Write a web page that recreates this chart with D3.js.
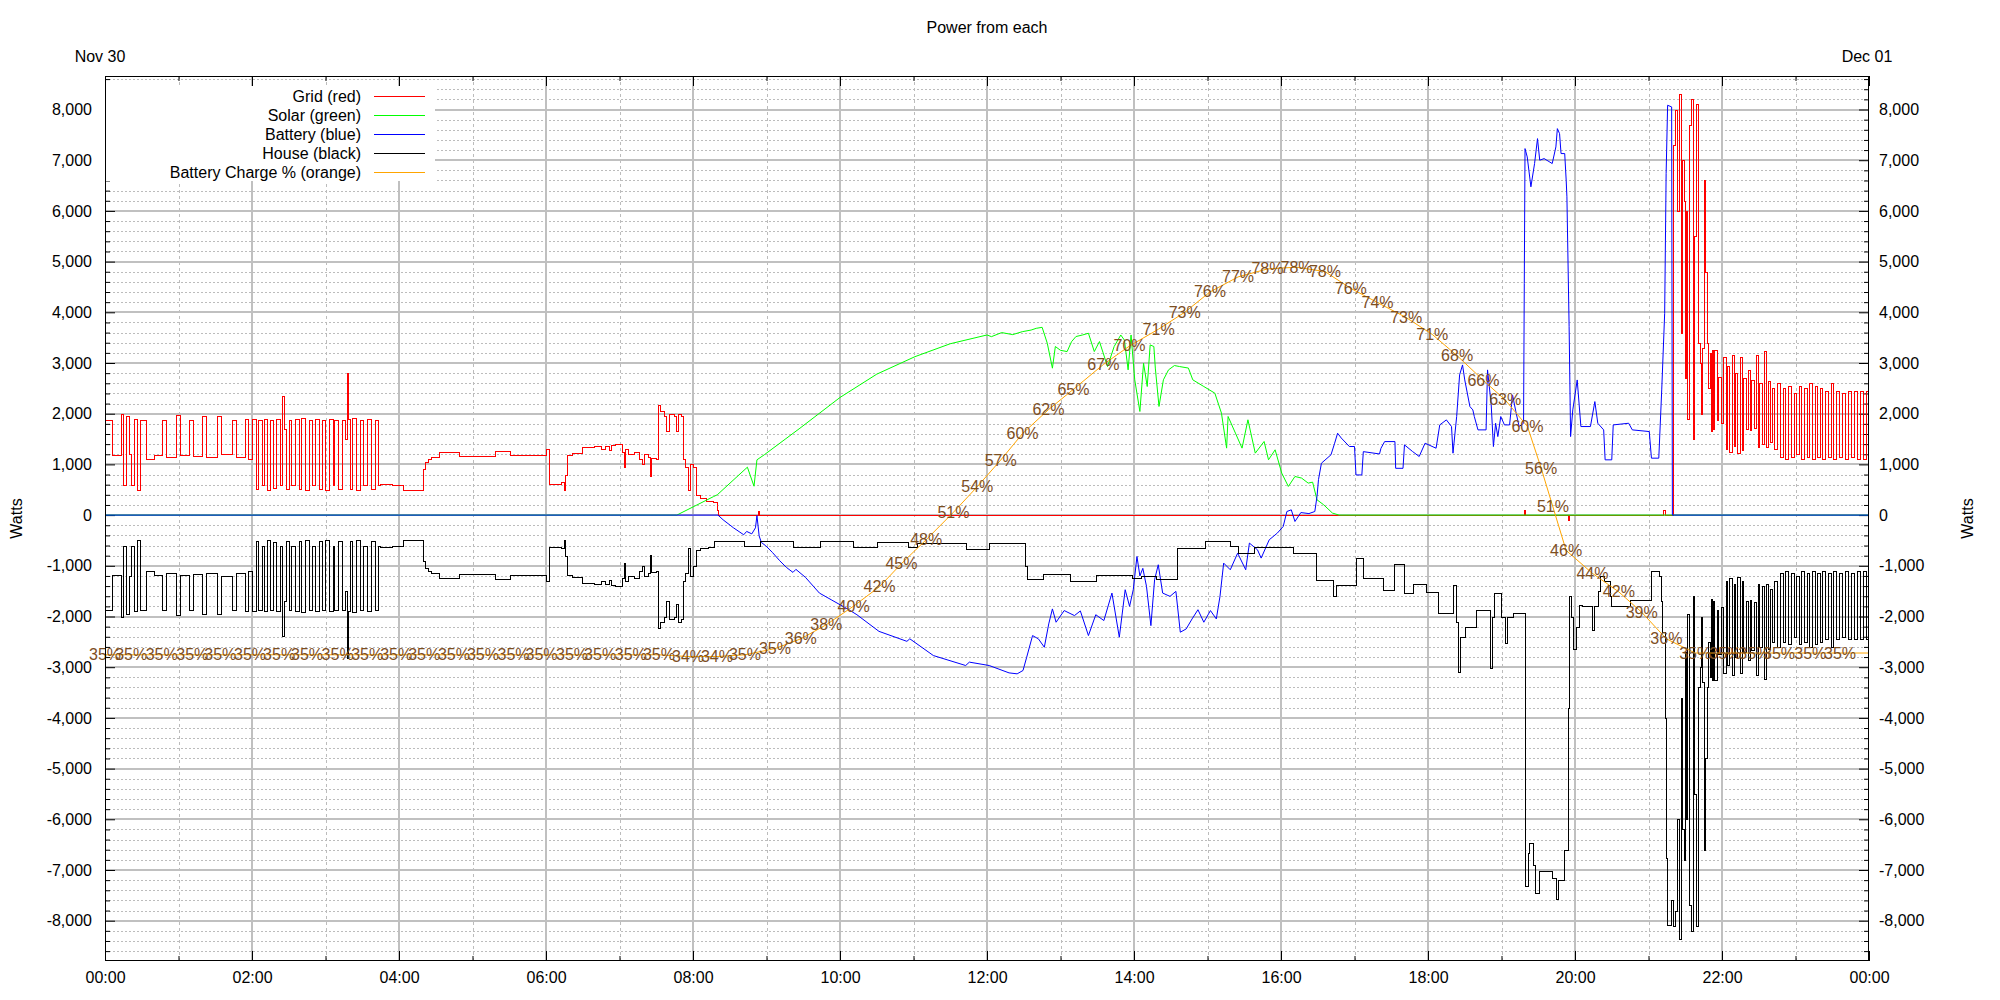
<!DOCTYPE html>
<html><head><meta charset="utf-8">
<script src="https://cdn.jsdelivr.net/npm/d3@7"></script>
<style>
html,body{margin:0;padding:0;background:#fff;}
svg{display:block;}
text{font-family:"Liberation Sans",Arial,sans-serif;}
</style></head><body>
<svg id="chart" width="2000" height="1000"></svg>
<script>
// ---------------- DATA ----------------
const chartTitle = "Power from each";
const startDateLabel = "Nov 30";
const endDateLabel = "Dec 01";
const yAxisTitle = "Watts";
const xDomain = [0, 24];               // hours
const yDomain = [-8795, 8661];         // watts
const pctDomain = [0, 100];            // battery charge %
const xTickHours = [0,2,4,6,8,10,12,14,16,18,20,22,24];
const xTickLabels = ["00:00","02:00","04:00","06:00","08:00","10:00","12:00","14:00","16:00","18:00","20:00","22:00","00:00"];
const yTicks = [-8000,-7000,-6000,-5000,-4000,-3000,-2000,-1000,0,1000,2000,3000,4000,5000,6000,7000,8000];
const seriesNames = ["Grid (red)","Solar (green)","Battery (blue)","House (black)","Battery Charge % (orange)"];
const seriesColors = ["#ff0000","#00ff00","#0000ff","#000000","#ffa500"];

// Grid power [hour, W] (stepwise)
const gridPts = [
[0.00,1880],[0.10,1190],[0.22,2000],[0.25,600],[0.29,1950],[0.33,1200],[0.36,600],[0.40,1900],[0.44,500],[0.48,1870],[0.56,1100],[0.66,1180],[0.78,1870],[0.83,1150],[0.97,1980],[1.02,1190],[1.14,1880],[1.20,1170],[1.32,1950],[1.37,1150],[1.53,1950],[1.58,1200],[1.73,1880],[1.78,1150],[1.90,1900],[1.95,1100],
[2.00,1900],[2.05,520],[2.08,1880],[2.13,600],[2.17,1900],[2.20,500],[2.24,1870],[2.29,530],[2.32,1900],[2.38,600],[2.41,2350],[2.44,1700],[2.46,520],[2.50,1880],[2.53,600],[2.59,1900],[2.635,520],[2.67,1920],[2.725,500],[2.77,1880],[2.82,600],[2.86,1900],[2.91,520],[2.95,1880],[2.99,500],[3.05,1900],[3.10,600],[3.12,1880],[3.17,520],[3.22,1880],[3.27,1500],[3.29,2800],[3.31,1900],[3.34,520],[3.36,1920],[3.41,500],[3.47,1880],[3.515,600],[3.57,1900],[3.62,520],[3.675,1880],[3.72,600],
[3.745,620],[3.90,600],[4.06,500],[4.33,900],[4.36,1050],[4.40,1100],[4.44,1150],[4.54,1250],[4.82,1170],[5.30,1260],[5.51,1180],[6.00,1300],[6.04,620],[6.20,650],[6.24,500],[6.26,800],[6.29,1190],[6.36,1220],[6.49,1340],[6.65,1360],[6.75,1300],[6.80,1360],[6.86,1280],[6.89,1380],[6.94,1400],[7.03,1250],[7.06,950],[7.08,1300],[7.11,1200],[7.20,1250],[7.27,1100],[7.30,1000],[7.33,1200],[7.39,1150],[7.41,780],[7.43,1120],[7.50,1100],
[7.52,2180],[7.55,2050],[7.60,1960],[7.63,1650],[7.67,2000],[7.74,1950],[7.77,1650],[7.80,2000],[7.84,1950],[7.87,1100],[7.89,950],[7.93,500],[7.96,1000],[8.00,950],[8.04,400],[8.10,330],[8.18,280],[8.27,250],[8.32,100],[8.34,0],
[8.88,80],[8.90,0],[19.30,100],[19.32,0],[19.90,-100],[19.92,0],[21.20,100],[21.22,0],
[21.33,7300],[21.36,8000],[21.39,6000],[21.41,8300],[21.44,3600],[21.455,7000],[21.48,6200],[21.49,2700],[21.51,6000],[21.53,1900],[21.55,7700],[21.575,8200],[21.60,1500],[21.625,5500],[21.65,8100],[21.68,3400],[21.70,3000],[21.71,2000],[21.73,3300],[21.755,6600],[21.775,4800],[21.80,3400],[21.815,2500],[21.83,3200],[21.845,1650],[21.86,3250],[21.875,1700],
[21.895,3250],[21.93,1880],[21.95,2730],[21.99,1810],[22.02,3120],[22.05,1300],[22.07,2950],[22.10,1250],[22.13,3150],[22.16,1355],[22.18,2800],[22.21,1220],[22.24,3120],[22.27,1290],[22.29,2700],[22.32,1700],[22.35,2860],[22.38,1680],[22.40,2670],[22.43,1710],[22.46,3150],[22.49,1350],[22.51,2600],[22.54,1400],[22.57,3230],[22.60,1350],[22.62,2650],[22.65,1450],[22.68,2500],[22.71,1300],
[22.75,2600],[22.79,1150],[22.83,2500],[22.86,1100],[22.90,2550],[22.94,1150],[22.98,2400],[23.01,1200],[23.05,2550],[23.08,1100],[23.12,2500],[23.15,1150],[23.19,2600],[23.22,1100],[23.26,2550],[23.29,1150],[23.33,2500],[23.36,1100],[23.40,2450],[23.44,1150],[23.48,2600],[23.51,1100],[23.55,2450],[23.59,1150],[23.63,2400],[23.67,1100],[23.71,2450],[23.75,1150],[23.80,2450],[23.84,1100],[23.88,2450],[23.92,1100],[23.96,2450],[24.0,2450]
];

// Solar power [hour, W]
const solarPts = [
[0,0],[7.55,0],[7.78,0],[8.28,366],[8.33,400],[8.74,945],[8.83,570],[8.87,1090],[8.97,1190],[9.455,1714],[10.0,2320],[10.5,2780],[11.02,3125],[11.5,3380],[12.0,3553],[12.06,3520],[12.2,3600],[12.35,3560],[12.48,3618],[12.6,3650],[12.67,3684],[12.75,3704],[12.82,3390],[12.89,2898],[12.93,3325],[13.0,3250],[13.09,3226],[13.15,3420],[13.21,3522],[13.30,3553],[13.38,3587],[13.46,3226],[13.53,3423],[13.58,3200],[13.64,2930],[13.73,3325],[13.82,3553],[13.87,3450],[13.92,2865],[13.96,3553],[14.01,2668],[14.08,2044],[14.13,2996],[14.18,2536],[14.22,3357],[14.27,3325],[14.29,2900],[14.34,2143],[14.40,2668],[14.47,2865],[14.55,2950],[14.62,2930],[14.74,2900],[14.80,2668],[14.95,2536],[15.10,2405],[15.19,2011],[15.26,1321],[15.28,1945],[15.38,1617],[15.47,1321],[15.55,1880],[15.65,1222],[15.77,1452],[15.83,1091],[15.92,1288],[16.01,828],[16.10,565],[16.19,762],[16.28,730],[16.37,631],[16.43,650],[16.49,302],[16.58,204],[16.70,40],[16.79,0],[24,0]
];

// Battery power [hour, W]
const batteryPts = [
[0,0],[8.34,0],[8.41,-93],[8.55,-250],[8.69,-388],[8.73,-322],[8.80,-370],[8.85,-250],[8.87,-10],[8.90,-410],[8.93,-540],[8.99,-605],[9.08,-736],[9.18,-900],[9.27,-1031],[9.36,-1130],[9.40,-1070],[9.53,-1228],[9.72,-1538],[9.88,-1669],[10.12,-1866],[10.23,-1965],[10.53,-2293],[10.91,-2490],[10.95,-2440],[11.27,-2770],[11.71,-2967],[11.76,-2900],[12.03,-2967],[12.30,-3112],[12.41,-3131],[12.49,-3065],[12.54,-2803],[12.62,-2376],[12.70,-2442],[12.78,-2606],[12.84,-2146],[12.89,-1850],[12.94,-2113],[13.05,-1883],[13.19,-1982],[13.27,-1890],[13.38,-2376],[13.48,-1965],[13.59,-2080],[13.70,-1538],[13.80,-2409],[13.88,-1472],[13.94,-1800],[13.99,-1472],[14.04,-816],[14.08,-1200],[14.12,-1050],[14.17,-1406],[14.23,-2180],[14.28,-1275],[14.33,-979],[14.39,-1538],[14.49,-1603],[14.57,-1504],[14.63,-2310],[14.71,-2245],[14.79,-2048],[14.87,-1866],[14.95,-2113],[15.04,-1883],[15.12,-2048],[15.17,-1603],[15.22,-947],[15.31,-1078],[15.41,-750],[15.52,-1078],[15.57,-552],[15.68,-684],[15.73,-848],[15.84,-487],[15.95,-355],[16.03,-224],[16.08,71],[16.14,104],[16.19,-126],[16.27,50],[16.38,30],[16.46,71],[16.49,367],[16.51,700],[16.55,1024],[16.68,1189],[16.73,1418],[16.77,1615],[16.82,1520],[16.93,1353],[17.00,1353],[17.02,792],[17.10,792],[17.12,1252],[17.34,1206],[17.36,1318],[17.41,1450],[17.55,1450],[17.56,923],[17.66,923],[17.68,1385],[17.79,1254],[17.88,1156],[17.96,1418],[18.11,1319],[18.16,1779],[18.25,1878],[18.32,1747],[18.34,1221],[18.39,1944],[18.43,2765],[18.47,2962],[18.50,2666],[18.57,2141],[18.61,2075],[18.63,1944],[18.68,1681],[18.79,1681],[18.81,2864],[18.86,2174],[18.89,1352],[18.92,1812],[18.95,1549],[18.99,1944],[19.04,1779],[19.11,1779],[19.15,2370],[19.20,2009],[19.24,1747],[19.30,1812],[19.31,4571],[19.32,7229],[19.35,7065],[19.40,6475],[19.45,6934],[19.49,7426],[19.52,7000],[19.58,7032],[19.69,6934],[19.74,7262],[19.76,7623],[19.79,7524],[19.81,7131],[19.86,7131],[19.88,6606],[19.89,6278],[19.92,3716],[19.94,1549],[19.97,2075],[20.03,2666],[20.08,1747],[20.21,1747],[20.27,2239],[20.31,1812],[20.39,1681],[20.41,1090],[20.50,1090],[20.52,1779],[20.73,1812],[20.78,1681],[21.01,1648],[21.04,1123],[21.14,1123],[21.18,2469],[21.22,3979],[21.24,6737],[21.26,8084],[21.315,8051],[21.325,0],[24,0]
];

// House power [hour, W] (stepwise)
const housePts = [
[0.00,-1880],[0.10,-1190],[0.22,-2000],[0.25,-600],[0.29,-1950],[0.33,-1200],[0.36,-600],[0.40,-1900],[0.44,-500],[0.48,-1870],[0.56,-1100],[0.66,-1180],[0.78,-1870],[0.83,-1150],[0.97,-1980],[1.02,-1190],[1.14,-1880],[1.20,-1170],[1.32,-1950],[1.37,-1150],[1.53,-1950],[1.58,-1200],[1.73,-1880],[1.78,-1150],[1.90,-1900],[1.95,-1100],
[2.00,-1900],[2.05,-520],[2.08,-1880],[2.13,-600],[2.17,-1900],[2.20,-500],[2.24,-1870],[2.29,-530],[2.32,-1900],[2.38,-600],[2.41,-2380],[2.44,-1700],[2.46,-520],[2.50,-1880],[2.53,-600],[2.59,-1900],[2.635,-520],[2.67,-1920],[2.725,-500],[2.77,-1880],[2.82,-600],[2.86,-1900],[2.91,-520],[2.95,-1880],[2.99,-500],[3.05,-1900],[3.10,-600],[3.12,-1880],[3.17,-520],[3.22,-1880],[3.27,-1500],[3.29,-2820],[3.31,-1900],[3.34,-520],[3.36,-1920],[3.41,-500],[3.47,-1880],[3.515,-600],[3.57,-1900],[3.62,-520],[3.675,-1880],[3.72,-600],
[3.745,-620],[3.90,-600],[4.06,-500],[4.33,-900],[4.36,-1050],[4.40,-1100],[4.44,-1150],[4.54,-1250],[4.82,-1170],[5.30,-1260],[5.51,-1180],[6.00,-1300],[6.04,-620],[6.20,-650],[6.24,-500],[6.26,-800],[6.29,-1190],[6.36,-1220],[6.49,-1340],[6.65,-1360],[6.75,-1300],[6.80,-1360],[6.86,-1280],[6.89,-1380],[6.94,-1400],[7.03,-1250],[7.06,-950],[7.08,-1300],[7.11,-1200],[7.20,-1250],[7.27,-1100],[7.30,-1000],[7.33,-1200],[7.39,-1150],[7.41,-780],[7.43,-1120],[7.50,-1100],
[7.52,-2230],[7.55,-2100],[7.60,-2000],[7.63,-1700],[7.67,-2050],[7.74,-2000],[7.77,-1750],[7.80,-2100],[7.84,-2050],[7.87,-1300],[7.89,-1150],[7.93,-650],[7.96,-1200],[8.00,-1000],[8.04,-680],[8.10,-640],[8.20,-620],[8.28,-520],[8.69,-600],[8.91,-520],[9.36,-620],[9.73,-510],[10.18,-630],[10.50,-530],[10.93,-620],[11.05,-560],[11.39,-550],[11.71,-670],[12.03,-550],[12.52,-1000],[12.55,-1260],[12.76,-1165],[13.13,-1290],[13.48,-1190],[13.97,-1250],[14.10,-1210],[14.30,-1270],[14.58,-650],[14.96,-520],[15.31,-600],[15.42,-750],[15.63,-620],[16.17,-740],[16.48,-1275],[16.71,-1600],[16.75,-1380],[17.02,-845],[17.11,-1250],[17.39,-1480],[17.54,-955],[17.68,-1540],[17.79,-1350],[17.97,-1510],[18.13,-1930],[18.34,-1380],[18.38,-2100],[18.41,-3100],[18.44,-2400],[18.50,-2200],[18.65,-1870],[18.84,-3015],[18.87,-2000],[18.90,-1540],[18.99,-2000],[19.05,-2520],[19.08,-2000],[19.16,-1930],
[19.32,-7320],[19.36,-6660],[19.38,-6460],[19.43,-6900],[19.46,-7450],[19.51,-7020],[19.69,-7150],[19.74,-7580],[19.77,-7190],[19.85,-6600],[19.90,-3800],[19.92,-1600],[19.95,-2000],[19.97,-2650],[20.01,-2200],[20.05,-1770],[20.10,-1800],[20.23,-2260],[20.26,-1800],[20.31,-1500],[20.34,-1200],[20.40,-1300],[20.47,-1600],[20.49,-1800],[20.75,-1670],[21.01,-1680],[21.04,-1110],[21.14,-1200],[21.17,-1700],[21.19,-2300],[21.22,-4000],[21.235,-6760],[21.25,-8080],[21.31,-7600],
[21.33,-8100],[21.36,-7800],[21.39,-6000],[21.41,-8370],[21.44,-3600],[21.455,-6200],[21.48,-6800],[21.49,-2700],[21.51,-6000],[21.53,-1960],[21.55,-7700],[21.575,-8200],[21.60,-1600],[21.625,-5500],[21.65,-8100],[21.68,-3400],[21.70,-3000],[21.71,-2000],[21.73,-3300],[21.755,-6600],[21.775,-4800],[21.80,-3400],[21.815,-2500],[21.83,-3200],[21.845,-1650],[21.86,-3250],[21.875,-1700],
[21.895,-3250],[21.93,-1880],[21.95,-2730],[21.99,-1810],[22.02,-3120],[22.05,-1300],[22.07,-2950],[22.10,-1250],[22.13,-3150],[22.16,-1355],[22.18,-2800],[22.21,-1220],[22.24,-3120],[22.27,-1290],[22.29,-2700],[22.32,-1700],[22.35,-2860],[22.38,-1680],[22.40,-2670],[22.43,-1710],[22.46,-3150],[22.49,-1350],[22.51,-2600],[22.54,-1400],[22.57,-3230],[22.60,-1350],[22.62,-2650],[22.65,-1450],[22.68,-2500],[22.71,-1300],
[22.75,-2600],[22.79,-1150],[22.83,-2500],[22.86,-1100],[22.90,-2550],[22.94,-1150],[22.98,-2400],[23.01,-1200],[23.05,-2550],[23.08,-1100],[23.12,-2500],[23.15,-1150],[23.19,-2600],[23.22,-1100],[23.26,-2550],[23.29,-1150],[23.33,-2500],[23.36,-1100],[23.40,-2450],[23.44,-1150],[23.48,-2600],[23.51,-1100],[23.55,-2450],[23.59,-1150],[23.63,-2400],[23.67,-1100],[23.71,-2450],[23.75,-1150],[23.80,-2450],[23.84,-1100],[23.88,-2450],[23.92,-1100],[23.96,-2450],[24.0,-2450]
];

// Battery charge % samples (labelled points)
const chargeTimes = [0,0.356,0.772,1.188,1.569,1.973,2.369,2.749,3.165,3.568,3.962,4.343,4.748,5.142,5.558,5.940,6.355,6.736,7.154,7.536,
7.932,8.326,8.707,9.115,9.466,9.814,10.185,10.538,10.836,11.172,11.543,11.868,12.186,12.484,12.836,13.176,13.583,13.940,14.335,14.690,
15.034,15.416,15.816,16.211,16.598,16.950,17.313,17.704,18.058,18.396,18.754,19.050,19.353,19.539,19.700,19.879,20.237,20.597,20.908,21.243,
21.635,22.045,22.439,22.776,23.201,23.606];
const chargeValues = [34.6,34.6,34.6,34.6,34.6,34.6,34.6,34.6,34.6,34.6,34.6,34.6,34.6,34.6,34.6,34.6,34.6,34.6,34.6,34.6,
34.4,34.4,34.6,35.3,36.4,38.0,40.1,42.3,44.9,47.6,50.7,53.6,56.6,59.6,62.3,64.6,67.4,69.5,71.4,73.3,
75.6,77.3,78.2,78.4,77.9,76.0,74.4,72.7,70.8,68.4,65.6,63.4,60.4,55.7,51.3,46.4,43.8,41.7,39.4,36.4,
34.8,34.8,34.8,34.8,34.8,34.8];
const chargeLineTail = [[24.0,34.8]];

// ---------------- DRAW ----------------
const W = 2000, H = 1000;
const M = {left:105, right:1869, top:76, bottom:961};
const x = d3.scaleLinear().domain(xDomain).range([M.left, M.right]);
const y = d3.scaleLinear().domain(yDomain).range([M.bottom, M.top]);
const yPct = d3.scaleLinear().domain(pctDomain).range([M.bottom, M.top]);
const FONT = '"Liberation Sans", Arial, sans-serif';
const svg = d3.select("#chart");
svg.append("rect").attr("width", W).attr("height", H).attr("fill", "#fff");

// grid lines
const gGrid = svg.append("g").attr("shape-rendering", "crispEdges");
const yMinor = d3.range(-8600, 8601, 200).filter(v => v % 1000 !== 0 && v > yDomain[0] && v < yDomain[1]);
const xMinor = d3.range(1, 24, 2);
const px = v => Math.round(v) + 0.5;
gGrid.selectAll("line.ymin").data(yMinor).join("line")
  .attr("x1", M.left).attr("x2", M.right)
  .attr("y1", d => px(y(d))).attr("y2", d => px(y(d)))
  .attr("stroke", "#bcbcbc").attr("stroke-width", 1).attr("stroke-dasharray", "2,2");
gGrid.selectAll("line.xmin").data(xMinor).join("line")
  .attr("y1", M.top).attr("y2", M.bottom)
  .attr("x1", d => px(x(d))).attr("x2", d => px(x(d)))
  .attr("stroke", "#bcbcbc").attr("stroke-width", 1).attr("stroke-dasharray", "3,3");
gGrid.selectAll("line.ymaj").data(yTicks).join("line")
  .attr("x1", M.left).attr("x2", M.right)
  .attr("y1", d => Math.round(y(d))).attr("y2", d => Math.round(y(d)))
  .attr("stroke", "#c0c0c0").attr("stroke-width", 2);
gGrid.selectAll("line.xmaj").data(xTickHours.filter(h => h > 0 && h < 24)).join("line")
  .attr("y1", M.top).attr("y2", M.bottom)
  .attr("x1", d => Math.round(x(d))).attr("x2", d => Math.round(x(d)))
  .attr("stroke", "#c0c0c0").attr("stroke-width", 2);

// axes (ticks inward)
const fmt = v => d3.format(",")(v).replace("\u2212", "-");
function styleAxis(g) {
  g.select(".domain").remove();
  g.selectAll("line").attr("stroke", "#000");
  g.selectAll("text").attr("font-family", FONT).attr("font-size", 16).attr("fill", "#000");
}
svg.append("g").attr("transform", `translate(${M.left},0)`)
  .call(d3.axisLeft(y).tickValues(yTicks).tickFormat(fmt).tickSize(-10).tickPadding(13))
  .call(styleAxis);
svg.append("g").attr("transform", `translate(${M.left},0)`)
  .call(d3.axisLeft(y).tickValues(yMinor).tickFormat("").tickSize(-5)).call(styleAxis);
svg.append("g").attr("transform", `translate(${M.right},0)`)
  .call(d3.axisRight(y).tickValues(yTicks).tickFormat(fmt).tickSize(-10).tickPadding(10))
  .call(styleAxis);
svg.append("g").attr("transform", `translate(${M.right},0)`)
  .call(d3.axisRight(y).tickValues(yMinor).tickFormat("").tickSize(-5)).call(styleAxis);
svg.append("g").attr("transform", `translate(0,${M.bottom})`)
  .call(d3.axisBottom(x).tickValues(xTickHours).tickFormat((d, i) => xTickLabels[i]).tickSize(-10).tickPadding(11))
  .call(styleAxis);
svg.append("g").attr("transform", `translate(0,${M.bottom})`)
  .call(d3.axisBottom(x).tickValues(xMinor).tickFormat("").tickSize(-5)).call(styleAxis);
svg.append("g").attr("transform", `translate(0,${M.top})`)
  .call(d3.axisTop(x).tickValues(xTickHours).tickFormat("").tickSize(-10)).call(styleAxis);
svg.append("g").attr("transform", `translate(0,${M.top})`)
  .call(d3.axisTop(x).tickValues(xMinor).tickFormat("").tickSize(-5)).call(styleAxis);

// clip
svg.append("clipPath").attr("id", "plotclip").append("rect")
  .attr("x", M.left).attr("y", M.top).attr("width", M.right - M.left).attr("height", M.bottom - M.top);
const gData = svg.append("g").attr("clip-path", "url(#plotclip)");

const stepLine = d3.line().x(d => Math.round(x(d[0])) + 0.5).y(d => Math.round(y(d[1])) + 0.5).curve(d3.curveStepAfter);
const linLine = d3.line().x(d => x(d[0])).y(d => y(d[1]));
const pctLine = d3.line().x(d => x(d[0])).y(d => yPct(d[1]));

gData.append("path").attr("d", stepLine(gridPts)).attr("fill", "none").attr("stroke", seriesColors[0]).attr("stroke-width", 1).attr("shape-rendering", "crispEdges");
gData.append("path").attr("d", linLine(solarPts)).attr("fill", "none").attr("stroke", seriesColors[1]).attr("stroke-width", 1);
gData.append("path").attr("d", linLine(batteryPts)).attr("fill", "none").attr("stroke", seriesColors[2]).attr("stroke-width", 1);
gData.append("path").attr("d", stepLine(housePts)).attr("fill", "none").attr("stroke", seriesColors[3]).attr("stroke-width", 1).attr("shape-rendering", "crispEdges");
const chargePts = chargeTimes.map((t, i) => [t, chargeValues[i]]).concat(chargeLineTail);
gData.append("path").attr("d", pctLine(chargePts)).attr("fill", "none").attr("stroke", seriesColors[4]).attr("stroke-width", 1);

// charge labels
svg.append("g").selectAll("text").data(chargeTimes).join("text")
  .attr("x", t => x(t)).attr("y", (t, i) => yPct(chargeValues[i]) + 5.5)
  .attr("text-anchor", "middle").attr("font-family", FONT).attr("font-size", 16)
  .attr("fill", "#7d4e1f").text((t, i) => Math.round(chargeValues[i]) + "%");

// border
svg.append("rect").attr("x", M.left + 0.5).attr("y", M.top + 0.5)
  .attr("width", M.right - M.left - 1).attr("height", M.bottom - M.top - 1)
  .attr("fill", "none").attr("stroke", "#000").attr("stroke-width", 1);

// legend
const gLeg = svg.append("g");
gLeg.append("rect").attr("x", M.left + 1).attr("y", 86).attr("width", 435 - M.left - 1).attr("height", 95).attr("fill", "#fff");
seriesNames.forEach((name, i) => {
  const cy = 96 + i * 19;
  gLeg.append("text").attr("x", 361).attr("y", cy + 5.5).attr("text-anchor", "end")
    .attr("font-family", FONT).attr("font-size", 16).attr("fill", "#000").text(name);
  gLeg.append("line").attr("x1", 374).attr("x2", 425).attr("y1", cy + 0.5).attr("y2", cy + 0.5)
    .attr("stroke", seriesColors[i]).attr("stroke-width", 1);
});

// titles
svg.append("text").attr("x", (M.left + M.right) / 2).attr("y", 33).attr("text-anchor", "middle")
  .attr("font-family", FONT).attr("font-size", 16).text(chartTitle);
svg.append("text").attr("x", 100).attr("y", 62).attr("text-anchor", "middle")
  .attr("font-family", FONT).attr("font-size", 16).text(startDateLabel);
svg.append("text").attr("x", 1867).attr("y", 62).attr("text-anchor", "middle")
  .attr("font-family", FONT).attr("font-size", 16).text(endDateLabel);
svg.append("text").attr("transform", `translate(22,${(M.top + M.bottom) / 2}) rotate(-90)`).attr("text-anchor", "middle")
  .attr("font-family", FONT).attr("font-size", 16).text(yAxisTitle);
svg.append("text").attr("transform", `translate(1973,${(M.top + M.bottom) / 2}) rotate(-90)`).attr("text-anchor", "middle")
  .attr("font-family", FONT).attr("font-size", 16).text(yAxisTitle);
</script></body></html>
